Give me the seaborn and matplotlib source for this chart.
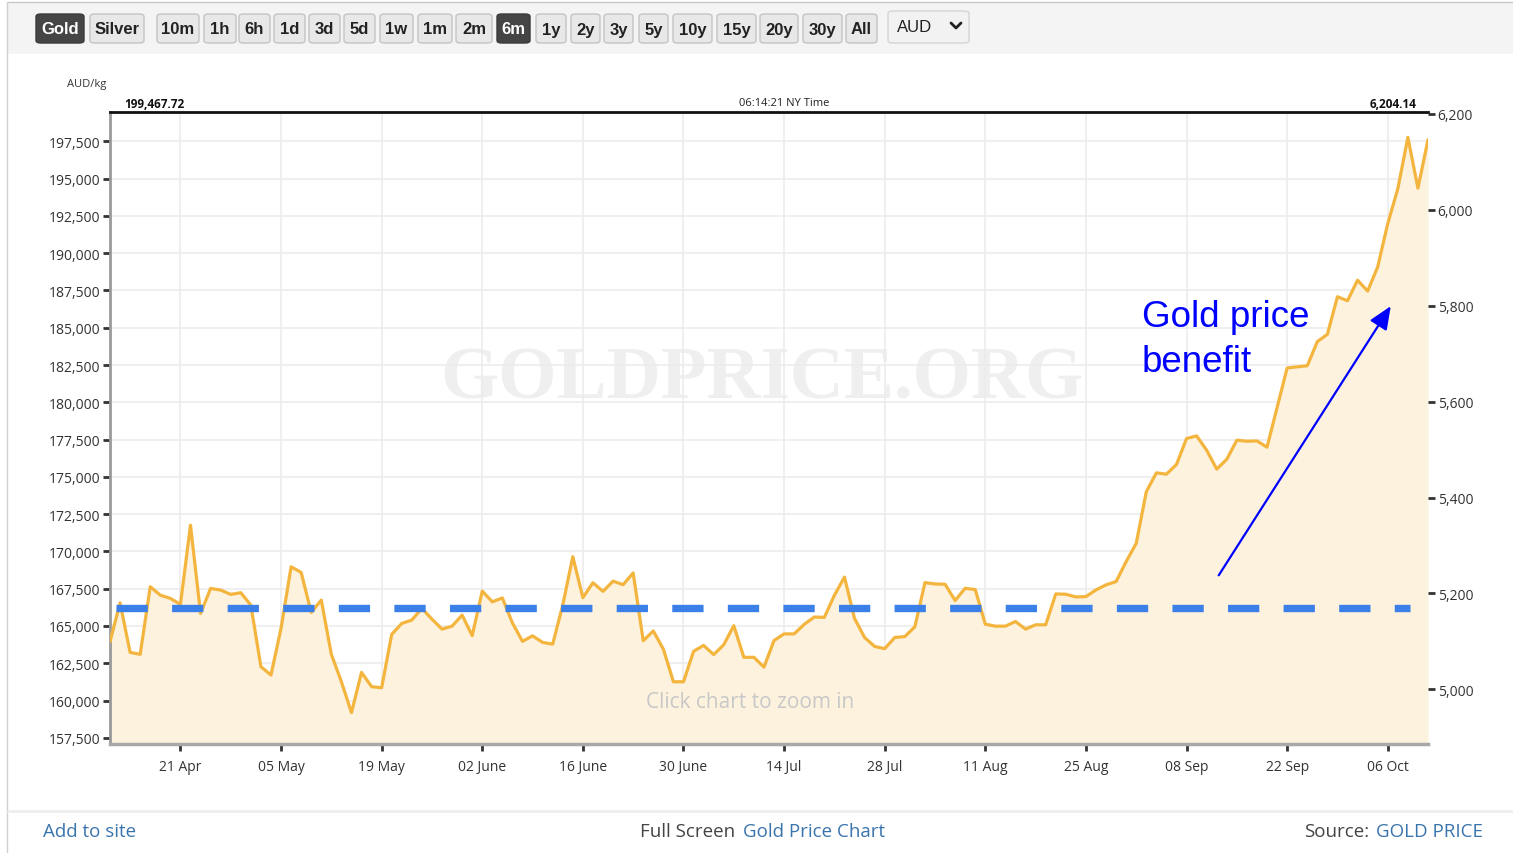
import numpy as np
import pandas as pd
import matplotlib
matplotlib.use("Agg")
import matplotlib.pyplot as plt
from matplotlib.patches import Rectangle, FancyBboxPatch
from matplotlib.lines import Line2D
from matplotlib.ticker import FuncFormatter
import seaborn as sns

# ---- data ----
dates = pd.bdate_range("2025-04-10", "2025-10-10")
price_aud_kg = [
    163950, 166550, 163230, 163100, 167630, 167070, 166850, 166450, 171760, 165840,
    167520, 167410, 167120, 167230, 166400, 162270, 161710, 164840, 168970, 168590,
    165910, 166740, 163100, 161260, 159190, 161890, 160930, 160860, 164440, 165170,
    165400, 166180, 165460, 164790, 164990, 165730, 164350, 167340, 166620, 166880,
    165200, 163970, 164340, 163900, 163780, 166400, 169650, 166900, 167900, 167320,
    168010, 167770, 168560, 164010, 164670, 163450, 161260, 161260, 163300, 163700,
    163080, 163740, 165020, 162900, 162900, 162240, 164030, 164470, 164470, 165110,
    165600, 165580, 167060, 168280, 165510, 164230, 163630, 163480, 164230, 164290,
    164950, 167910, 167820, 167800, 166710, 167530, 167440, 165120, 164990, 164990,
    165300, 164790, 165080, 165080, 167150, 167130, 166950, 166970, 167420, 167760,
    167980, 169320, 170540, 174000, 175270, 175180, 175830, 177570, 177750, 176790,
    175520, 176180, 177460, 177390, 177410, 176990, 179640, 182300, 182380, 182450,
    184070, 184560, 187080, 186810, 188190, 187460, 189080, 191980, 194320, 197770,
    194360, 197610,
]
ref_level = 166200
period_high = 199467.72
period_high_oz = 6204.14
bottom_level = 157087
tick_dates = ["2025-04-21", "2025-05-05", "2025-05-19", "2025-06-02", "2025-06-16",
              "2025-06-30", "2025-07-14", "2025-07-28", "2025-08-11", "2025-08-25",
              "2025-09-08", "2025-09-22", "2025-10-06"]
tick_labels = ["21 Apr", "05 May", "19 May", "02 June", "16 June", "30 June", "14 Jul",
               "28 Jul", "11 Aug", "25 Aug", "08 Sep", "22 Sep", "06 Oct"]
left_ticks = list(range(157500, 197501, 2500))
right_ticks = list(range(5000, 6201, 200))
KG_TO_OZ = 32.1507
arrow_tail = (110.2, 168400)
arrow_head = (127.3, 186450)

buttons = [("Gold", 36, 84, True), ("Silver", 90, 144, False), ("10m", 157, 199, False),
           ("1h", 204, 236, False), ("6h", 239, 270, False), ("1d", 274, 305, False),
           ("3d", 309, 340, False), ("5d", 344, 375, False), ("1w", 380, 413, False),
           ("1m", 418, 452, False), ("2m", 456, 492, False), ("6m", 497, 530, True),
           ("1y", 536, 566, False), ("2y", 571, 600, False), ("3y", 604, 633, False),
           ("5y", 639, 668, False), ("10y", 673, 712, False), ("15y", 717, 756, False),
           ("20y", 760, 798, False), ("30y", 803, 842, False), ("All", 846, 877, False)]

sns.set_style("white")
plt.rcParams['font.family'] = ['Open Sans', 'DejaVu Sans']

W, H = 1513, 854
fig = plt.figure(figsize=(W / 100, H / 100), dpi=100, facecolor="white")


def fx(x):
    return x / W


def fy(y):
    return 1 - y / H


# ---- toolbar ----
fig.add_artist(Rectangle((fx(8), fy(55)), fx(W - 8), 52 / H, transform=fig.transFigure,
                         facecolor="#f4f4f4", edgecolor="none", zorder=0))
fig.add_artist(Line2D([fx(8), 1], [fy(3), fy(3)], transform=fig.transFigure, color="#c8c8c8", lw=1))
fig.add_artist(Line2D([fx(7), fx(7)], [fy(3), 0], transform=fig.transFigure, color="#d0d0d0", lw=1))
for label, x0, x1, active in buttons:
    fig.add_artist(FancyBboxPatch((fx(x0), fy(44)), fx(x1 - x0), 29 / H,
                                  boxstyle="round,pad=0,rounding_size=0.003",
                                  transform=fig.transFigure,
                                  facecolor="#454545" if active else "#e8e8e8",
                                  edgecolor="#3a3a3a" if active else "#c4c4c4", lw=1))
    fig.text(fx((x0 + x1) / 2), fy(30), label, ha="center", va="center", fontsize=12,
             fontweight="bold", family="Liberation Sans",
             color="white" if active else "#222222")
fig.add_artist(FancyBboxPatch((fx(888), fy(44)), fx(81), 32 / H,
                              boxstyle="round,pad=0,rounding_size=0.003",
                              transform=fig.transFigure,
                              facecolor="#f2f2f2", edgecolor="#d4d4d4", lw=1))
fig.text(fx(897), fy(28), "AUD", ha="left", va="center", fontsize=12,
         family="Liberation Sans", color="#222222")
fig.add_artist(Line2D([fx(951), fx(956), fx(961)], [fy(24), fy(29), fy(24)],
                      transform=fig.transFigure, color="#222222", lw=2))

# ---- main chart ----
ax = fig.add_axes([fx(110), fy(745), fx(1318), 632 / H])
df = pd.DataFrame({"pos": np.arange(len(dates)), "price": price_aud_kg})
ax.fill_between(df["pos"], df["price"], bottom_level, color="#fdf2de", lw=0, zorder=1)
sns.lineplot(data=df, x="pos", y="price", ax=ax, color="#f4b53f", lw=2.3, zorder=3)
ax.axhline(ref_level, xmin=0.0045, xmax=0.9865, color="#3b80e8", lw=5.3,
           dashes=(4.25, 3.3), zorder=4)

ax.set_xlim(0, len(dates) - 1)
ax.set_ylim(bottom_level, period_high)
ax.set_xticks(dates.get_indexer(pd.to_datetime(tick_dates)))
ax.set_xticklabels(tick_labels)
ax.set_yticks(left_ticks)
ax.yaxis.set_major_formatter(FuncFormatter(lambda v, p: f"{v:,.0f}"))
ax.set_xlabel("")
ax.set_ylabel("")
ax.grid(True, color="#ececec", lw=1.2)
ax.set_axisbelow(True)
ax.tick_params(axis="y", length=5, width=2, color="#333333", labelsize=10,
               labelcolor="#333333", pad=2, left=True)
ax.tick_params(axis="x", length=5, width=2, color="#333333", labelsize=10,
               labelcolor="#333333", pad=6, bottom=True)
ax.spines["right"].set_visible(False)
ax.spines["top"].set_color("#111111")
ax.spines["top"].set_linewidth(2)
ax.spines["left"].set_color("#9a9a9a")
ax.spines["left"].set_linewidth(2)
ax.spines["bottom"].set_color("#a8a8a8")
ax.spines["bottom"].set_linewidth(2.5)

ax2 = ax.twinx()
ax2.set_ylim(bottom_level / KG_TO_OZ, period_high / KG_TO_OZ)
ax2.set_yticks(right_ticks)
ax2.yaxis.set_major_formatter(FuncFormatter(lambda v, p: f"{v:,.0f}"))
ax2.tick_params(axis="y", length=5, width=2, color="#333333", labelsize=10,
                labelcolor="#333333", pad=2)
for s in ax2.spines.values():
    s.set_visible(False)

# watermark and hint
ax.text(0.4947, 0.576, "GOLDPRICE.ORG", transform=ax.transAxes, ha="center", va="center",
        fontsize=54, fontweight="bold", family="Liberation Serif", color="#efefef", zorder=0.5)
ax.text(0.4856, 0.068, "Click chart to zoom in", transform=ax.transAxes, ha="center",
        va="center", fontsize=15, color="#c8c8c8", zorder=5)

# annotation
ax.annotate("", xy=arrow_head, xytext=arrow_tail,
            arrowprops=dict(arrowstyle="-|>,head_length=0.7,head_width=0.3",
                            color="#0000ff", lw=1.6, mutation_scale=20, shrinkA=0, shrinkB=0),
            zorder=6)
fig.text(fx(1142), fy(300), "Gold price\nbenefit", ha="left", va="top", fontsize=26.5,
         family="Liberation Sans", color="#0000ff", linespacing=1.38)

# labels above the chart
fig.text(fx(67), fy(85), "AUD/kg", ha="left", va="center", fontsize=8, color="#333333")
fig.text(fx(124), fy(104), f"{period_high:,.2f}", ha="left", va="center", fontsize=8.5,
         fontweight="bold", color="#111111")
fig.text(fx(784), fy(104), "06:14:21 NY Time", ha="center", va="center", fontsize=8,
         color="#222222")
fig.text(fx(1416), fy(104), f"{period_high_oz:,.2f}", ha="right", va="center", fontsize=8.5,
         fontweight="bold", color="#111111")

# footer
fig.add_artist(Line2D([fx(8), 1], [fy(812), fy(812)], transform=fig.transFigure,
                      color="#eeeeee", lw=2))
link = "#3a74ad"
fig.text(fx(43), fy(832), "Add to site", ha="left", va="center", fontsize=13.5, color=link)
fig.text(fx(640), fy(832), "Full Screen", ha="left", va="center", fontsize=13.5, color="#444444")
fig.text(fx(885), fy(832), "Gold Price Chart", ha="right", va="center", fontsize=13.5, color=link)
fig.text(fx(1483), fy(832), "GOLD PRICE", ha="right", va="center", fontsize=13.5, color=link)
fig.text(fx(1369), fy(832), "Source:", ha="right", va="center", fontsize=13.5, color="#444444")

fig.savefig("out.png", dpi=100, facecolor="white")
